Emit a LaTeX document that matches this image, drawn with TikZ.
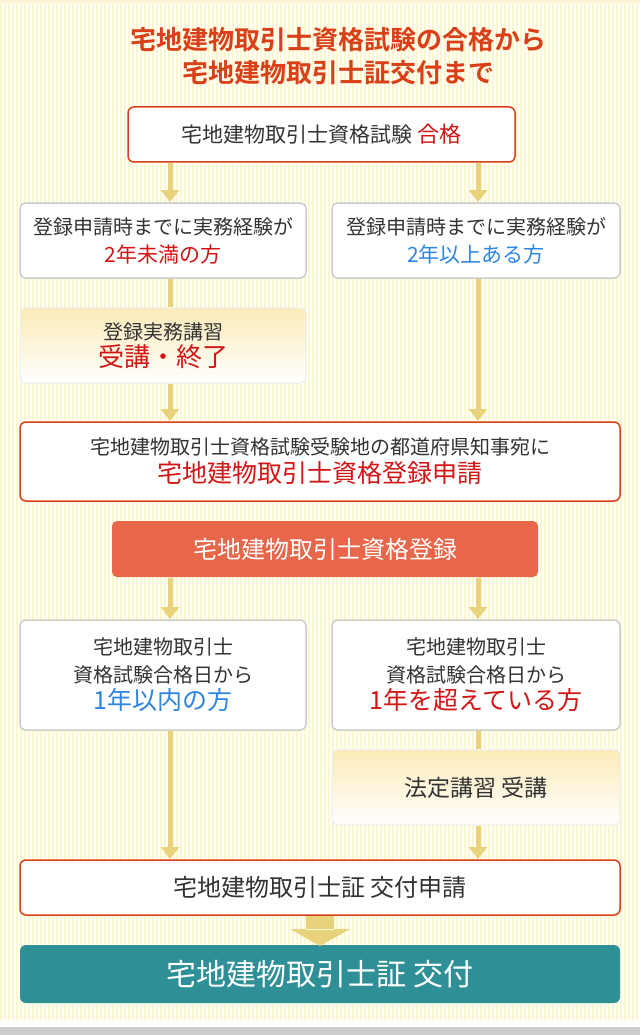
\documentclass[tikz,border=0pt]{standalone}
\usepackage{fontspec}
\setmainfont{Noto Sans CJK JP}
\newfontfamily\jpb{Noto Sans CJK JP Bold}
\definecolor{tred}{HTML}{D9401A}
\definecolor{ered}{HTML}{D31515}
\definecolor{eblue}{HTML}{2E86E0}
\definecolor{arr}{HTML}{E9D27C}
\definecolor{teal}{HTML}{2E8F96}
\definecolor{orng}{HTML}{E8674A}
\definecolor{txt}{HTML}{333333}
\definecolor{stripe}{HTML}{FDF7CF}
\definecolor{grad1}{HTML}{FBEBB8}
\newcommand\fs[1]{\fontsize{#1}{#1}\selectfont}
\tikzset{
 box/.style={draw=#1,line width=1.5pt,rounded corners=6pt,fill=white},
 flow/.style={arr,line width=5pt,-{Triangle[width=18pt,length=12pt]}},
 tx/.style={text=txt,font=\fontsize{20}{28}\selectfont,align=center},
}
\usetikzlibrary{arrows.meta}
\begin{document}
\begin{tikzpicture}[x=1pt,y=-1pt]
\useasboundingbox (0,0) rectangle (640,1035);
\fill[white] (0,0) rectangle (640,1035);
\foreach \i in {0,4,...,636} \fill[stripe] (\i,0) rectangle (\i+2,1020);
\fill[stripe!80!orange!40] (0,0) rectangle (640,3);
\fill[black!20] (0,1027) rectangle (640,1035);
\node[text=tred,font=\jpb\fontsize{26}{33}\selectfont,align=center] (title) at (338,56) {宅地建物取引士資格試験の合格から\\宅地建物取引士証交付まで};
% boxes
\node[box=tred,minimum width=387pt,minimum height=55pt,tx,font=\fs{21}] (b1) at (321.5,134.5) {宅地建物取引士資格試験 {\color{ered}\fs{22}合格}};
\node[box=black!20,minimum width=286pt,minimum height=75pt,tx] (b2l) at (163,240.5) {登録申請時までに実務経験が\\{\color{ered}\fs{21}2年未満の方}};
\node[box=black!20,minimum width=288pt,minimum height=75pt,tx] (b2r) at (476,240.5) {登録申請時までに実務経験が\\{\color{eblue}\fs{21}2年以上ある方}};
\node[draw=black!8,line width=1pt,rounded corners=6pt,top color=grad1,bottom color=white,minimum width=286pt,minimum height=75pt,tx] (kos) at (163,345.5) {登録実務講習\\[-1pt]{\color{ered}\fs{26}受講・終了}};
\node[box=tred,minimum width=600pt,minimum height=79pt,tx] (b3) at (320,461.5) {宅地建物取引士資格試験受験地の都道府県知事宛に\\{\color{ered}\fs{25}宅地建物取引士資格登録申請}};
\node[fill=orng,rounded corners=5pt,minimum width=426pt,minimum height=56pt,text=white,font=\fs{24}] (reg) at (325,549) {宅地建物取引士資格登録};
\node[box=black!20,minimum width=286pt,minimum height=110pt,tx] (b4l) at (163,675) {宅地建物取引士\\資格試験合格日から\\[-1pt]{\color{eblue}\fs{25}1年以内の方}};
\node[box=black!20,minimum width=288pt,minimum height=110pt,tx] (b4r) at (476,675) {宅地建物取引士\\資格試験合格日から\\[-1pt]{\color{ered}\fs{25}1年を超えている方}};
\node[draw=black!8,line width=1pt,rounded corners=6pt,top color=grad1,bottom color=white,minimum width=288pt,minimum height=75pt,text=txt,font=\fs{23}] (hotei) at (476,787.5) {法定講習 受講};
\node[box=tred,minimum width=600pt,minimum height=55pt,text=txt,font=\fs{24}] (b5) at (320,887.5) {宅地建物取引士証 交付申請};
\node[fill=teal,rounded corners=6pt,minimum width=600pt,minimum height=58pt,text=white,font=\fs{30}] (fin) at (320,974) {宅地建物取引士証 交付};
% arrows
\draw[flow] (170,163) -- (170,202);
\draw[flow] (478,163) -- (478,202);
\draw[arr,line width=5pt] (170,279) -- (170,307);
\draw[flow] (170,384) -- (170,421);
\draw[flow] (478,279) -- (478,421);
\draw[flow] (170,578) -- (170,619);
\draw[flow] (478,578) -- (478,619);
\draw[flow] (170,731) -- (170,859);
\draw[arr,line width=5pt] (478,731) -- (478,749);
\draw[flow] (478,826) -- (478,859);
\fill[arr] (306,916) rectangle (334,930) (290,929) -- (350,929) -- (320,946) -- cycle;
\end{tikzpicture}
\end{document}
